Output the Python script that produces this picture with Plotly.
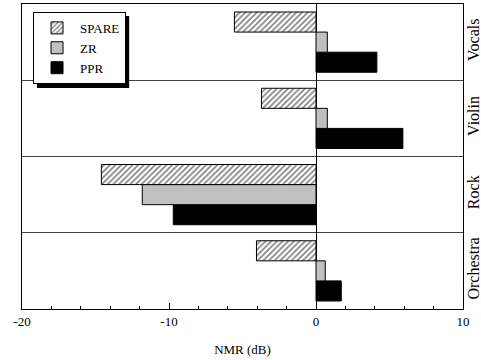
import plotly.graph_objects as go

categories = ["Orchestra", "Rock", "Violin", "Vocals"]
spare = [-4.05, -14.6, -3.71, -5.55]
zr = [0.63, -11.82, 0.77, 0.77]
ppr = [1.72, -9.71, 5.91, 4.14]
x_ticks = [-20, -10, 0, 10]
x_tick_labels = ["-20", "-10", "0", "10"]

FONT = "Liberation Serif, Times New Roman, serif"

fig = go.Figure()
fig.add_trace(go.Bar(name="PPR", y=categories, x=ppr, orientation="h",
                     marker=dict(color="black", line=dict(color="black", width=1))))
fig.add_trace(go.Bar(name="ZR", y=categories, x=zr, orientation="h",
                     marker=dict(color="#c0c0c0", line=dict(color="black", width=1))))
fig.add_trace(go.Bar(name="SPARE", y=categories, x=spare, orientation="h",
                     marker=dict(color="white", line=dict(color="black", width=1),
                                 pattern=dict(shape="/", fgcolor="black", bgcolor="white",
                                              size=4, solidity=0.4))))

# legend drop shadow (paper coords)
fig.add_shape(type="rect", xref="paper", yref="paper",
              x0=0.034, x1=0.243, y0=0.725, y1=0.961,
              fillcolor="black", line=dict(width=0), layer="above")

fig.update_layout(
    width=481, height=360,
    margin=dict(l=22, r=18, t=4, b=51, autoexpand=False),
    paper_bgcolor="white", plot_bgcolor="white",
    barmode="group", bargap=0.21, bargroupgap=0,
    font=dict(family=FONT, size=13, color="black"),
    showlegend=True,
    legend=dict(x=0.025, y=0.974, xanchor="left", yanchor="top",
                traceorder="reversed", bgcolor="white",
                bordercolor="black", borderwidth=1, tracegroupgap=0,
                entrywidth=88, itemwidth=36,
                font=dict(family=FONT, size=13)),
    xaxis=dict(range=[-20, 10], tickvals=x_ticks, ticktext=x_tick_labels,
               ticks="inside", ticklen=6, automargin=False,
               tickcolor="black", showline=True, linecolor="black", linewidth=1,
               mirror=True, showgrid=False, zeroline=True, zerolinecolor="black",
               zerolinewidth=1,
               minor=dict(dtick=2, ticks="inside", ticklen=3, tickcolor="black"),
               title=dict(text="NMR (dB)", font=dict(size=13), standoff=17)),
    yaxis=dict(side="right", tickangle=-90, ticks="", tickson="boundaries",
               automargin=False, tickfont=dict(size=16), ticklabelstandoff=-4,
               showgrid=True, gridcolor="#444", gridwidth=1,
               showline=True, linecolor="black", linewidth=1, mirror=True,
               range=[-0.5, 3.5]),
)

fig.write_html("out.html", config={"displayModeBar": False},
               post_script="document.body.style.margin='0';document.body.style.padding='0';")
